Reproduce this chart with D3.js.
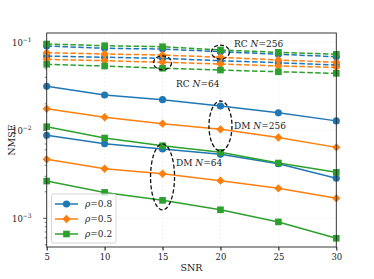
<!DOCTYPE html>
<html>
<head>
<meta charset="utf-8">
<script src="https://cdn.jsdelivr.net/npm/d3@7"></script>
<style>
  body { margin: 0; background: #fff; }
  text { font-family: "DejaVu Serif", "Liberation Serif", serif; fill: #222; }
</style>
</head>
<body>
<div id="chart"></div>
<script>
// x values
const snr = [5, 10, 15, 20, 25, 30];

// DM curves (solid)
const dm256Rho08 = [0.0316, 0.0252, 0.0223, 0.0189, 0.0158, 0.0128];
const dm256Rho05 = [0.0176, 0.0141, 0.0119, 0.01025, 0.0083, 0.0064];
const dm256Rho02 = [0.0110, 0.00817, 0.00668, 0.00562, 0.00425, 0.00333];
const dm64Rho08 = [0.0088, 0.00704, 0.00613, 0.00533, 0.00417, 0.00285];
const dm64Rho05 = [0.00468, 0.00366, 0.00321, 0.00268, 0.00219, 0.00169];
const dm64Rho02 = [0.00265, 0.00197, 0.0016, 0.00125, 0.00091, 0.000593];

// RC curves (dashed)
const rc256Rho02 = [0.0957, 0.0915, 0.0891, 0.0818, 0.0769, 0.0731];
const rc256Rho08 = [0.0908, 0.0855, 0.0839, 0.0782, 0.0731, 0.0686];
const rc256Rho05 = [0.0762, 0.0736, 0.0717, 0.0676, 0.0630, 0.0593];
const rc64Rho08 = [0.0698, 0.0676, 0.0658, 0.0618, 0.0586, 0.0552];
const rc64Rho05 = [0.0641, 0.0618, 0.0593, 0.0567, 0.0538, 0.0520];
const rc64Rho02 = [0.0562, 0.0538, 0.0507, 0.0484, 0.0463, 0.0444];

const xTicks = [5, 10, 15, 20, 25, 30];
const yMajor = [1e-3, 1e-2, 1e-1];
const yExp = ['\u22123', '\u22122', '\u22121'];
const rhoLabels = ['0.8', '0.5', '0.2'];

const blue = '#1f77b4', orange = '#ff7f0e', green = '#2ca02c';

const series = [
  { v: rc256Rho08, c: blue, m: 'circle', dash: true },
  { v: rc64Rho08, c: blue, m: 'circle', dash: true },
  { v: rc256Rho05, c: orange, m: 'diamond', dash: true },
  { v: rc64Rho05, c: orange, m: 'diamond', dash: true },
  { v: rc256Rho02, c: green, m: 'square', dash: true },
  { v: rc64Rho02, c: green, m: 'square', dash: true },
  { v: dm256Rho08, c: blue, m: 'circle', dash: false },
  { v: dm64Rho08, c: blue, m: 'circle', dash: false },
  { v: dm256Rho05, c: orange, m: 'diamond', dash: false },
  { v: dm64Rho05, c: orange, m: 'diamond', dash: false },
  { v: dm256Rho02, c: green, m: 'square', dash: false },
  { v: dm64Rho02, c: green, m: 'square', dash: false }
];

const W = 374, H = 279;
const pLeft = 46.7, pRight = 336.3, pTop = 33, pBottom = 247;

const svg = d3.select('#chart').append('svg')
  .attr('width', W).attr('height', H);

const x = d3.scaleLinear().domain([5, 30]).range([pLeft, pRight]);
const y = d3.scaleLog().domain([4.72e-4, 0.1276]).range([pBottom, pTop]);

// grid
const grid = svg.append('g').attr('stroke', '#b0b0b0').attr('stroke-opacity', 0.3)
  .attr('stroke-width', 0.6).attr('stroke-dasharray', '2,2');
grid.selectAll('.gx').data(xTicks).enter().append('line')
  .attr('x1', d => x(d)).attr('x2', d => x(d)).attr('y1', pTop).attr('y2', pBottom);
grid.selectAll('.gy').data(yMajor).enter().append('line')
  .attr('y1', d => y(d)).attr('y2', d => y(d)).attr('x1', pLeft).attr('x2', pRight);

// x axis
const xAxis = svg.append('g').attr('transform', `translate(0,${pBottom})`)
  .call(d3.axisBottom(x).tickValues(xTicks).tickSize(3.5).tickPadding(3));
xAxis.select('.domain').remove();
xAxis.selectAll('text').style('font-size', '8.5px').attr('fill', '#222');

// y axis (minor ticks)
const minor = [];
[1e-4, 1e-3, 1e-2].forEach(d => { for (let k = 2; k <= 9; k++) minor.push(d * k); });
const yMinor = minor.filter(d => d > y.domain()[0] && d < y.domain()[1]);
svg.append('g').selectAll('line').data(yMinor).enter().append('line')
  .attr('x1', pLeft - 2).attr('x2', pLeft)
  .attr('y1', d => y(d)).attr('y2', d => y(d))
  .attr('stroke', '#222').attr('stroke-width', 0.6);
svg.append('g').selectAll('line').data(yMajor).enter().append('line')
  .attr('x1', pLeft - 3.5).attr('x2', pLeft)
  .attr('y1', d => y(d)).attr('y2', d => y(d))
  .attr('stroke', '#222').attr('stroke-width', 0.8);
const yl = svg.append('g').selectAll('text').data(yMajor).enter().append('text')
  .attr('x', pLeft - 15).attr('y', d => y(d) + 3.5)
  .attr('text-anchor', 'end').style('font-size', '8.5px');
yl.append('tspan').text('10');
yl.append('tspan').attr('dy', -4).style('font-size', '6px').text((d, i) => yExp[i]);

// lines
const line = d3.line().x((d, i) => x(snr[i])).y(d => y(d));
const symbols = {
  circle: d3.symbol().type(d3.symbolCircle).size(40)(),
  square: d3.symbol().type(d3.symbolSquare).size(44)(),
  diamond: 'M0,-4.2L4.2,0L0,4.2L-4.2,0Z'
};

function drawSeries(s) {
  svg.append('path').datum(s.v)
    .attr('d', line).attr('fill', 'none').attr('stroke', s.c)
    .attr('stroke-width', 1.5)
    .attr('stroke-dasharray', s.dash ? '5.5,2.4' : null);
  svg.append('g').selectAll('path').data(s.v).enter().append('path')
    .attr('transform', (d, i) => `translate(${x(snr[i])},${y(d)})`)
    .attr('d', symbols[s.m]).attr('fill', s.c);
}
series.forEach(drawSeries);

// frame
svg.append('rect').attr('x', pLeft).attr('y', pTop)
  .attr('width', pRight - pLeft).attr('height', pBottom - pTop)
  .attr('fill', 'none').attr('stroke', '#222').attr('stroke-width', 0.9);

// annotation ellipses
const ell = [
  { cx: 20, cy: 0.0775, rx: 9, ry: 7 },
  { cx: 15, cy: 0.0585, rx: 9, ry: 7 },
  { cx: 20, cy: 0.0112, rx: 11.5, ry: 25 },
  { cx: 15, cy: 0.00295, rx: 12, ry: 33 }
];
svg.append('g').selectAll('ellipse').data(ell).enter().append('ellipse')
  .attr('cx', d => x(d.cx)).attr('cy', d => y(d.cy))
  .attr('rx', d => d.rx).attr('ry', d => d.ry)
  .attr('fill', 'none').attr('stroke', '#111').attr('stroke-width', 1.3)
  .attr('stroke-dasharray', '4,2.2');

function label(px, py, pre, post) {
  const t = svg.append('text').attr('x', px).attr('y', py).style('font-size', '9px');
  t.append('tspan').text(pre + ' ');
  t.append('tspan').style('font-style', 'italic').text('N');
  t.append('tspan').text('=' + post);
}
label(234, 47, 'RC', '256');
label(176, 86.5, 'RC', '64');
label(234, 128.5, 'DM', '256');
label(176, 166, 'DM', '64');

// axis labels
svg.append('text').attr('x', 191.5).attr('y', 271).attr('text-anchor', 'middle')
  .style('font-size', '9.5px').text('SNR');
svg.append('text').attr('transform', `translate(15,${(pTop + pBottom) / 2}) rotate(-90)`)
  .attr('text-anchor', 'middle').style('font-size', '9.5px').text('NMSE');

// legend
const lg = svg.append('g');
lg.append('rect').attr('x', 51.5).attr('y', 194).attr('width', 64.5).attr('height', 49)
  .attr('rx', 2).attr('fill', '#fff').attr('fill-opacity', 0.8)
  .attr('stroke', '#ccc').attr('stroke-width', 0.8);
const legSeries = [series[6], series[8], series[10]];
legSeries.forEach((s, i) => {
  const ly = 204 + i * 15;
  lg.append('line').attr('x1', 55).attr('x2', 78).attr('y1', ly).attr('y2', ly)
    .attr('stroke', s.c).attr('stroke-width', 1.5);
  lg.append('path').attr('transform', `translate(66.5,${ly})`)
    .attr('d', symbols[s.m]).attr('fill', s.c);
  const t = lg.append('text').attr('x', 85).attr('y', ly + 3.2).style('font-size', '9px');
  t.append('tspan').style('font-style', 'italic').text('\u03c1');
  t.append('tspan').text('=' + rhoLabels[i]);
});
</script>
</body>
</html>
